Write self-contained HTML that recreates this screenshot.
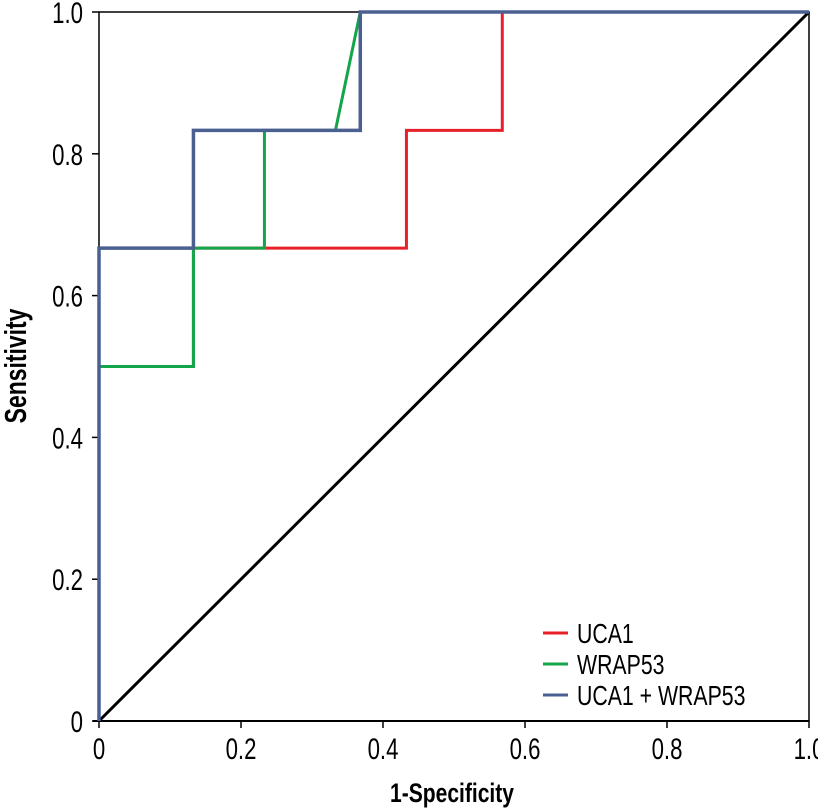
<!DOCTYPE html>
<html><head><meta charset="utf-8"><style>
html,body{margin:0;padding:0;background:#fff;}
svg{display:block;font-family:"Liberation Sans",sans-serif;}
</style></head><body>
<svg id="chart" width="818" height="810">
<g id="ticks"></g>
<g id="series"></g>
<g>
 <line x1="543" y1="633" x2="568" y2="633" stroke="#e8202a" stroke-width="3"/>
 <text x="577" y="643" font-size="28" transform="translate(577,0) scale(0.76,1) translate(-577,0)">UCA1</text>
 <line x1="543" y1="664" x2="568" y2="664" stroke="#12a54a" stroke-width="3"/>
 <text x="577" y="674" font-size="28" transform="translate(577,0) scale(0.76,1) translate(-577,0)">WRAP53</text>
 <line x1="543" y1="695" x2="568" y2="695" stroke="#4a6090" stroke-width="3"/>
 <text x="577" y="705" font-size="28" transform="translate(577,0) scale(0.76,1) translate(-577,0)">UCA1 + WRAP53</text>
</g>
<text x="0" y="0" font-size="31" font-weight="bold" text-anchor="middle" transform="translate(26,366) rotate(-90) scale(0.74,1)">Sensitivity</text>
<text x="0" y="0" font-size="27" font-weight="bold" text-anchor="middle" transform="translate(452,802) scale(0.78,1)">1-Specificity</text>
</svg>
<script>
const xTicks=[0,0.2,0.4,0.6,0.8,1.0];
const xTickLabels=["0","0.2","0.4","0.6","0.8","1.0"];
const yTicks=[0,0.2,0.4,0.6,0.8,1.0];
const yTickLabels=["0","0.2","0.4","0.6","0.8","1.0"];
const ucaX=[0,0,0.133,0.133,0.233,0.433,0.433,0.568,0.568,1];
const ucaY=[0,0.5,0.5,0.667,0.667,0.667,0.833,0.833,1,1];
const wrapX=[0,0,0.133,0.133,0.233,0.233,0.333,0.368,1];
const wrapY=[0,0.5,0.5,0.667,0.667,0.833,0.833,1,1];
const combX=[0,0,0.133,0.133,0.368,0.368,1];
const combY=[0,0.667,0.667,0.833,0.833,1,1];
const refX=[0,1];
const refY=[0,1];
const X0=99,X1=809,Y0=721,Y1=12;
const sx=v=>X0+v*(X1-X0);
const sy=v=>Y0-v*(Y0-Y1);
const NS="http://www.w3.org/2000/svg";
const tg=document.getElementById('ticks');
const sg=document.getElementById('series');
function mk(tag,attrs,parent){const e=document.createElementNS(NS,tag);for(const k in attrs)e.setAttribute(k,attrs[k]);parent.appendChild(e);return e;}
const fr=mk('path',{d:`M${X0},${Y0} L${X0},${Y1} L${X1},${Y1} L${X1},${Y0} Z`,fill:'none',stroke:'#000','stroke-width':1.5},tg);


const xa=mk('line',{x1:X0-6,y1:Y0,x2:X1,y2:Y0,stroke:'#000','stroke-width':2},tg);


xTicks.forEach((v,i)=>{
 const t=mk('line',{x1:sx(v),y1:Y0,x2:sx(v),y2:Y0+7,stroke:'#000','stroke-width':1.5},tg);
 
 
 const l=mk('text',{x:0,y:0,'font-size':30,'text-anchor':'middle',transform:`translate(${sx(v)},759) scale(0.74,1)`},tg);
 l.textContent=xTickLabels[i];
 
 
});
yTicks.forEach((v,i)=>{
 const t=mk('line',{x1:X0-7,y1:sy(v),x2:X0,y2:sy(v),stroke:'#000','stroke-width':1.5},tg);
 
 
 const l=mk('text',{x:0,y:0,'font-size':30,'text-anchor':'end',transform:`translate(83,${sy(v)+11}) scale(0.74,1)`},tg);
 l.textContent=yTickLabels[i];
 
 
});
function line(xs,ys,color,w,name){
 const d=xs.map((x,i)=>(i?'L':'M')+sx(x)+','+sy(ys[i])).join(' ');
 const p=mk('path',{d:d,fill:'none',stroke:color,'stroke-width':w,'stroke-linejoin':'miter'},sg);
 
 
}
line(refX,refY,'#000',3,'reference-line');
line(ucaX,ucaY,'#e8202a',3,'uca1-curve');
line(wrapX,wrapY,'#12a54a',3,'wrap53-curve');
line(combX,combY,'#4a6090',3.5,'combined-curve');
</script>
</body></html>
